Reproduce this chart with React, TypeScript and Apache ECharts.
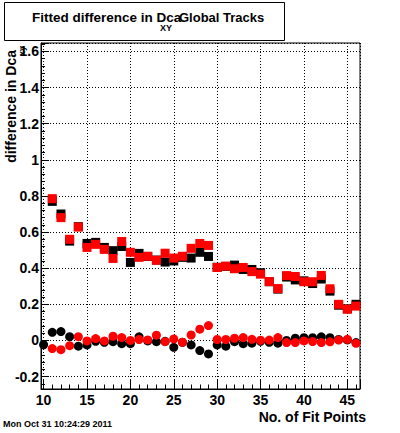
import React, { useEffect, useRef } from "react";
import * as echarts from "echarts";

const fitPoints = [10, 11, 12, 13, 14, 15, 16, 17, 18, 19, 20, 21, 22, 23, 24, 25, 26, 27, 28, 29, 30, 31, 32, 33, 34, 35, 36, 37, 38, 39, 40, 41, 42, 43, 44, 45, 46];

const blackSquares = [null, 0.77, 0.70, 0.55, 0.63, 0.537, 0.543, 0.515, 0.497, 0.52, 0.432, 0.482, 0.465, 0.445, 0.434, 0.44, 0.46, 0.456, 0.488, 0.465, 0.405, 0.41, 0.417, 0.393, 0.393, 0.375, 0.325, 0.284, 0.351, 0.335, 0.33, 0.315, 0.34, 0.273, 0.195, 0.175, 0.2];
const redSquares = [null, 0.785, 0.68, 0.56, 0.628, 0.515, 0.532, 0.504, 0.454, 0.548, 0.488, 0.46, 0.466, 0.444, 0.483, 0.456, 0.466, 0.51, 0.537, 0.526, 0.404, 0.411, 0.397, 0.404, 0.381, 0.367, 0.326, 0.287, 0.359, 0.354, 0.325, 0.325, 0.36, 0.286, 0.2, 0.173, 0.19];
const blackCircles = [-0.024, 0.045, 0.049, 0.021, -0.032, -0.025, -0.005, -0.01, -0.007, -0.018, -0.018, 0.02, -0.003, -0.007, -0.005, -0.038, -0.01, -0.025, -0.056, -0.075, -0.025, -0.032, -0.007, -0.018, -0.015, -0.005, -0.01, -0.015, 0.0, 0.012, 0.015, 0.015, 0.02, 0.015, 0.005, 0.003, -0.012];
const redCircles = [null, -0.045, -0.051, -0.029, 0.021, -0.003, 0.01, -0.003, 0.023, 0.016, 0.0, 0.005, 0.003, 0.029, -0.007, 0.008, -0.01, 0.03, 0.062, 0.082, 0.005, 0.005, 0.012, 0.016, 0.006, 0.001, 0.002, 0.016, -0.012, -0.012, -0.003, -0.006, -0.012, -0.008, 0.002, 0.006, -0.016];

const X_MIN = 9.7;
const X_MAX = 46.46;
const Y_MIN = -0.269;
const Y_MAX = 1.647;

const FONT = "'Liberation Sans', Arial, Helvetica, sans-serif";

function pairs(vals: (number | null)[]) {
  const out: number[][] = [];
  vals.forEach((v, i) => {
    if (v !== null) out.push([fitPoints[i], v]);
  });
  return out;
}

function isMultiple(v: number, step: number) {
  const r = v / step;
  return Math.abs(r - Math.round(r)) < 1e-6;
}

export default function App() {
  const ref = useRef<HTMLDivElement>(null);
  useEffect(() => {
    if (!ref.current) return;
    const chart = echarts.init(ref.current, null, { renderer: "svg" });
    const labelStyle = { color: "#000", fontFamily: FONT, fontWeight: "bold" as const, fontSize: 14 };
    const option: any = {
      animation: false,
      backgroundColor: "#fff",
      grid: {
        left: 41,
        top: 43,
        right: 40,
        bottom: 44,
        show: true,
        borderColor: "#000",
        borderWidth: 1,
        backgroundColor: "transparent",
      },
      xAxis: [
        {
          type: "value",
          min: X_MIN,
          max: X_MAX,
          minInterval: 5,
          maxInterval: 5,
          position: "bottom",
          axisLine: { show: true, onZero: false, lineStyle: { color: "#000", width: 1 } },
          axisTick: { show: true, inside: true, length: 9, lineStyle: { color: "#000", width: 1 } },
          axisLabel: {
            ...labelStyle,
            margin: 5,
            lineHeight: 12,
            showMinLabel: true,
            showMaxLabel: true,
            formatter: (v: number) => (isMultiple(v, 5) ? String(Math.round(v)) : ""),
          },
          splitLine: { show: true, lineStyle: { color: "#000", width: 1, type: [1, 2] } },
        },
        {
          type: "value",
          min: X_MIN,
          max: X_MAX,
          minInterval: 1,
          maxInterval: 1,
          position: "bottom",
          axisLine: { show: false, onZero: false },
          axisTick: { show: true, inside: true, length: 4.5, lineStyle: { color: "#000", width: 1 } },
          axisLabel: { show: false },
          splitLine: { show: false },
        },
      ],
      yAxis: [
        {
          type: "value",
          min: Y_MIN,
          max: Y_MAX,
          minInterval: 0.2,
          maxInterval: 0.2,
          position: "left",
          axisLine: { show: true, onZero: false, lineStyle: { color: "#000", width: 1 } },
          axisTick: { show: true, inside: true, length: 8, lineStyle: { color: "#000", width: 1 } },
          axisLabel: {
            ...labelStyle,
            margin: 2,
            showMinLabel: true,
            showMaxLabel: true,
            formatter: (v: number) => (isMultiple(v, 0.2) ? String(Math.round(v * 10) / 10) : ""),
          },
          splitLine: { show: true, lineStyle: { color: "#000", width: 1, type: [1, 2] } },
        },
        {
          type: "value",
          min: Y_MIN,
          max: Y_MAX,
          minInterval: 0.04,
          maxInterval: 0.04,
          position: "left",
          axisLine: { show: false, onZero: false },
          axisTick: { show: true, inside: true, length: 4, lineStyle: { color: "#000", width: 1 } },
          axisLabel: { show: false },
          splitLine: { show: false },
        },
      ],
      series: [
        { type: "scatter", xAxisIndex: 0, yAxisIndex: 0, data: pairs(blackSquares), symbol: "rect", symbolSize: 9, itemStyle: { color: "#000", opacity: 1 }, silent: true },
        { type: "scatter", xAxisIndex: 0, yAxisIndex: 0, data: pairs(redSquares), symbol: "rect", symbolSize: 9, itemStyle: { color: "#ff0000", opacity: 1 }, silent: true },
        { type: "scatter", xAxisIndex: 0, yAxisIndex: 0, data: pairs(blackCircles), symbol: "circle", symbolSize: 9, itemStyle: { color: "#000", opacity: 1 }, silent: true },
        { type: "scatter", xAxisIndex: 0, yAxisIndex: 0, data: pairs(redCircles), symbol: "circle", symbolSize: 9, itemStyle: { color: "#ff0000", opacity: 1 }, silent: true },
      ],
      graphic: [
        {
          type: "rect",
          shape: { x: 4.5, y: 2.5, width: 280, height: 38 },
          style: { fill: "#fff", stroke: "#000", lineWidth: 1 },
        },
        {
          type: "text",
          x: 32,
          y: 17,
          style: { text: "Fitted difference in Dca", fill: "#000", font: `bold 13.5px ${FONT}`, align: "left", verticalAlign: "middle" },
        },
        {
          type: "text",
          x: 166,
          y: 28,
          style: { text: "XY", fill: "#000", font: `bold 9px ${FONT}`, align: "center", verticalAlign: "middle" },
        },
        {
          type: "text",
          x: 179,
          y: 17,
          style: { text: "Global Tracks", fill: "#000", font: `bold 13px ${FONT}`, align: "left", verticalAlign: "middle" },
        },
        {
          type: "text",
          x: 11,
          y: 50,
          rotation: Math.PI / 2,
          style: { text: "difference in Dca", fill: "#000", font: `bold 14px ${FONT}`, align: "right", verticalAlign: "middle" },
        },
        {
          type: "text",
          x: 21.5,
          y: 56,
          rotation: Math.PI / 2,
          style: { text: "xy", fill: "#000", font: `bold 9px ${FONT}`, align: "left", verticalAlign: "middle" },
        },
        {
          type: "text",
          x: 366,
          y: 416.5,
          style: { text: "No. of Fit Points", fill: "#000", font: `bold 14px ${FONT}`, lineHeight: 12, align: "right", verticalAlign: "middle" },
        },
        {
          type: "text",
          x: 3,
          y: 424,
          style: { text: "Mon Oct 31 10:24:29 2011", fill: "#000", font: `bold 9px ${FONT}`, align: "left", verticalAlign: "middle" },
        },
      ],
    };
    chart.setOption(option);
    return () => chart.dispose();
  }, []);
  return (
    <div
      ref={ref}
      style={{ position: "absolute", left: 0, top: 0, width: 400, height: 433, background: "#fff" }}
    />
  );
}
